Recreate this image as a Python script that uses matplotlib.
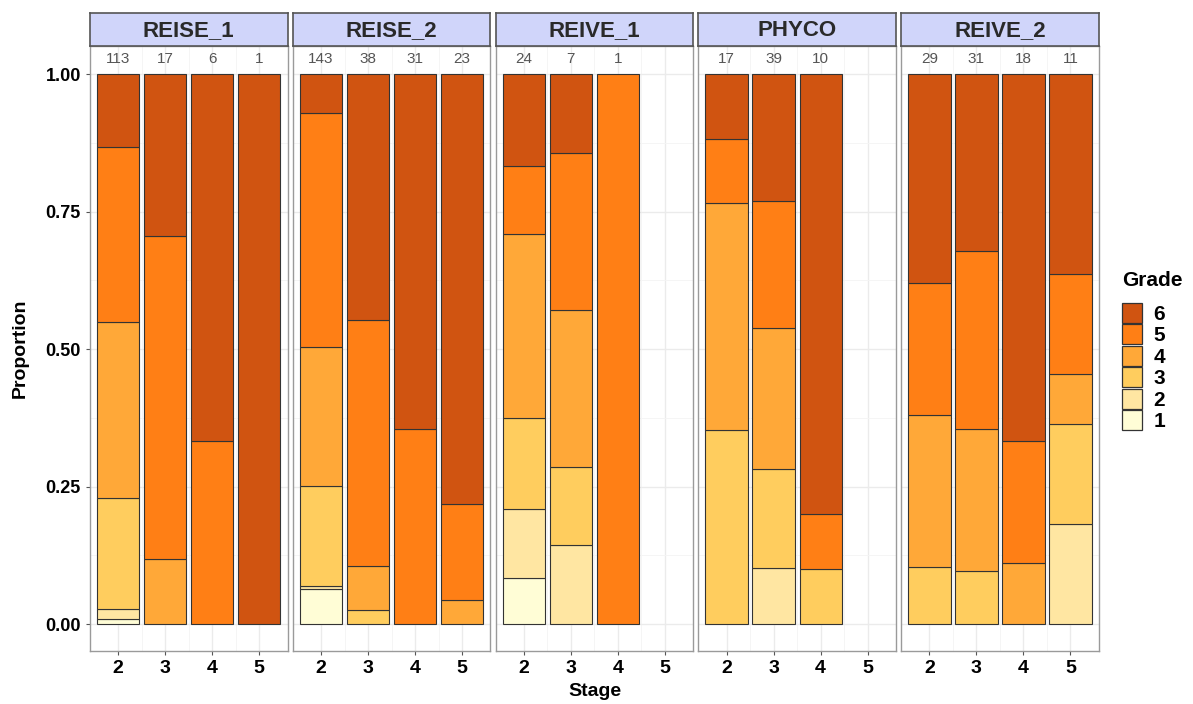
import numpy as np
import matplotlib.pyplot as plt
from matplotlib.patches import Patch

# facets, stages and grade counts
sites = ['REISE_1', 'REISE_2', 'REIVE_1', 'PHYCO', 'REIVE_2']
stages = [2, 3, 4, 5]
grades = [1, 2, 3, 4, 5, 6]

# counts[site][stage] -> counts for grades 1..6
reise_1 = [[1, 2, 23, 36, 36, 15], [0, 0, 0, 2, 10, 5], [0, 0, 0, 0, 2, 4], [0, 0, 0, 0, 0, 1]]
reise_2 = [[9, 1, 26, 36, 61, 10], [0, 0, 1, 3, 17, 17], [0, 0, 0, 0, 11, 20], [0, 0, 0, 1, 4, 18]]
reive_1 = [[2, 3, 4, 8, 3, 4], [0, 1, 1, 2, 2, 1], [0, 0, 0, 0, 1, 0], [0, 0, 0, 0, 0, 0]]
phyco = [[0, 0, 6, 7, 2, 2], [0, 4, 7, 10, 9, 9], [0, 0, 1, 0, 1, 8], [0, 0, 0, 0, 0, 0]]
reive_2 = [[0, 0, 3, 8, 7, 11], [0, 0, 3, 8, 10, 10], [0, 0, 0, 2, 4, 12], [0, 2, 2, 1, 2, 4]]
counts = [reise_1, reise_2, reive_1, phyco, reive_2]

grade_colors = ['#FFFDD6', '#FFE6A2', '#FFCD5E', '#FFA838', '#FF7F15', '#D05411']

plt.rcParams['font.family'] = ['Liberation Sans', 'DejaVu Sans']
fig = plt.figure(figsize=(11.93, 7.04), dpi=100)

W, H = 1193, 704
left0, pw, gap = 90, 197.5, 5.3
top, bottom = 46, 651
strip_h = 33

for k, site in enumerate(sites):
    x0 = left0 + k * (pw + gap)
    ax = fig.add_axes([x0 / W, 1 - bottom / H, pw / W, (bottom - top) / H])
    ax.set_facecolor('white')
    ax.set_xlim(0.4, 4.6)
    ax.set_ylim(-0.049, 1.051)
    ax.set_yticks([0, 0.25, 0.5, 0.75, 1.0])
    ax.set_yticks([0.125, 0.375, 0.625, 0.875], minor=True)
    ax.set_xticks([1, 2, 3, 4])
    ax.set_xticks([1.5, 2.5, 3.5], minor=True)
    ax.grid(True, which='major', color='#EBEBEB', lw=1.0)
    ax.grid(True, which='minor', color='#F4F4F4', lw=0.6)
    ax.set_axisbelow(True)
    for s in ax.spines.values():
        s.set_color('#9A9A9A')
        s.set_linewidth(1.0)
    ax.tick_params(which='minor', length=0)
    ax.tick_params(which='major', length=3, color='#555555')
    ax.set_xticklabels([str(s) for s in stages], fontsize=14, fontweight='bold')
    if k == 0:
        ax.set_yticklabels(['0.00', '0.25', '0.50', '0.75', '1.00'], fontsize=13, fontweight='bold')
    else:
        ax.tick_params(axis='y', which='major', length=0, labelleft=False)

    for j, stage in enumerate(stages):
        c = np.array(counts[k][j], dtype=float)
        n = c.sum()
        if n == 0:
            continue
        p = c / n
        bottom_val = 0.0
        for g in range(6):
            if c[g] == 0:
                continue
            ax.bar(j + 1, p[g], width=0.9, bottom=bottom_val, color=grade_colors[g],
                   edgecolor='#333333', linewidth=0.8)
            bottom_val += p[g]
        ax.text(j + 1, 1.027, str(int(n)), ha='center', va='center', fontsize=11, color='#555555')

    # facet strip
    sax = fig.add_axes([x0 / W, 1 - top / H, pw / W, strip_h / H])
    sax.set_facecolor('#D0D5FA')
    sax.set_xticks([])
    sax.set_yticks([])
    for s in sax.spines.values():
        s.set_color('#555555')
        s.set_linewidth(1.2)
    sax.text(0.5, 0.47, site, ha='center', va='center', fontsize=16, fontweight='bold',
             color='#2A2A2A', transform=sax.transAxes)

fig.text(20 / W, 1 - 348 / H, 'Proportion', rotation=90, ha='center', va='center',
         fontsize=14, fontweight='bold')
fig.text(595 / W, 1 - 692 / H, 'Stage', ha='center', va='center', fontsize=14, fontweight='bold')

handles = [Patch(facecolor=grade_colors[g], edgecolor='#333333', linewidth=0.9)
           for g in range(5, -1, -1)]
labels = [str(g) for g in grades[::-1]]
leg = fig.legend(handles, labels, title='Grade', loc='upper left',
                 bbox_to_anchor=(1114 / W, 1 - 263 / H), frameon=False,
                 fontsize=15, title_fontsize=15, handlelength=0.95, handleheight=1.1,
                 labelspacing=0.02, handletextpad=0.55, borderaxespad=0)
leg.get_title().set_fontweight('bold')
leg._legend_box.align = 'left'
leg._legend_box.sep = 9
for t in leg.get_texts():
    t.set_fontweight('bold')

fig.savefig('out.png', dpi=100)
